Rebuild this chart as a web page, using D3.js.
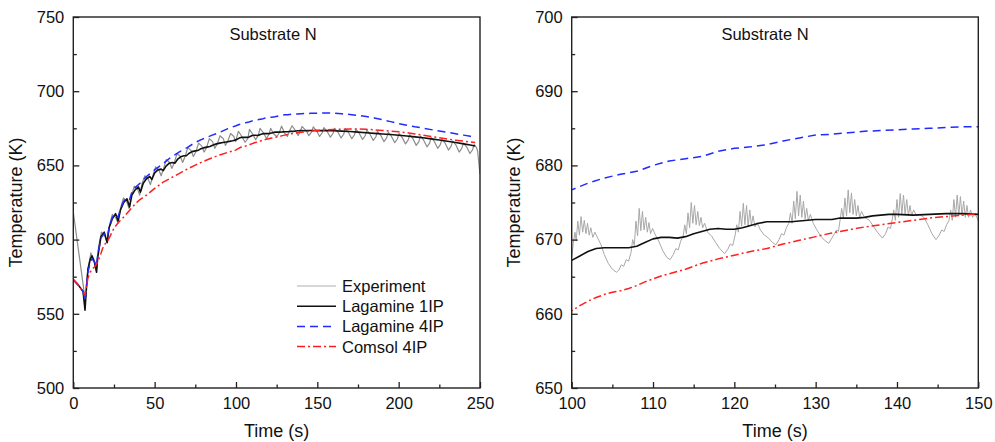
<!DOCTYPE html>
<html><head><meta charset="utf-8">
<script src="https://cdn.jsdelivr.net/npm/d3@7/dist/d3.min.js"></script>
<style>
body{margin:0;background:#fff}
svg text{font-family:"Liberation Sans",Arial,Helvetica,sans-serif;fill:#111}
</style>
</head><body>
<svg id="chart" width="995" height="442"></svg>
<script>
// ---------- labels ----------
const seriesNames = ["Experiment", "Lagamine 1IP", "Lagamine 4IP", "Comsol 4IP"];
const panelLabel = "Substrate N";
const xTitle = "Time (s)";
const yTitle = "Temperature (K)";

// ---------- axes ----------
const leftXDomain = [0, 250];
const leftYDomain = [500, 750];
const leftXTicks = [0, 50, 100, 150, 200, 250];
const leftXMinor = [25, 75, 125, 175, 225];
const leftYTicks = [500, 550, 600, 650, 700, 750];
const leftYMinor = [525, 575, 625, 675, 725];
const rightXDomain = [100, 150];
const rightYDomain = [650, 700];
const rightXTicks = [100, 110, 120, 130, 140, 150];
const rightXMinor = [105, 115, 125, 135, 145];
const rightYTicks = [650, 660, 670, 680, 690, 700];
const rightYMinor = [655, 665, 675, 685, 695];

// ---------- data: [time (s), temperature (K)] ----------
const lagamine1IP = [
 [0,573],[3,569.5],[6,565],[7.2,552.5],[8,566],[9,580],[10.5,587],[11.5,589],[13,585],[14.3,578],[15,588],[17,602],[19,605],[20.8,598],[22,608],[24,614],[26,617.5],[27.5,612.5],[29,620],[31,625],[33,627.5],[34.6,622],[36,630],[38,633.5],[40,635.5],[41.3,632],[43,638],[45,641],[47,642.5],[48.3,640.5],[50,645],[52,647],[54,647.5],[55.3,646.5],[57,649.5],[59,651.5],[61,652],[62.5,651.5],[64,654],[66,655.8],[68,656.5],[69.5,656.5],[71,658],[73,659.3],[75,659.8],[76.5,660],[78,661],[80,661.8],[82,662.3],[84,662.8],[86,663.8],[88,664.5],[90,665],[92,665.4],[94,665.8],[96,666.2],[98,666.6],
 [100,667.2],[101,667.8],[102,668.4],[103,668.8],[104,668.9],[105,668.9],[106,668.9],[107,668.9],[108,669.1],[109,669.6],[110,670.1],[111,670.3],[112,670.3],[113,670.2],[114,670.4],[115,670.8],[116,671.1],[117,671.4],[118,671.5],[119,671.4],[120,671.4],[121,671.6],[122,671.9],[123,672.2],[124,672.4],[125,672.4],[126,672.4],[127,672.4],[128,672.5],[129,672.6],[130,672.7],[131,672.7],[132,672.7],[133,672.9],[134,672.9],[135,672.9],[136,673.0],[137,673.2],[138,673.3],[139,673.4],[140,673.4],[142,673.3],[144,673.4],[146,673.5],[148,673.5],[150,673.4],
 [155,673.4],[160,673.3],[165,673.1],[170,672.8],[175,672.4],[180,672.0],[185,671.6],[190,671.2],[195,670.8],[200,670.3],[205,669.8],[210,669.2],[215,668.6],[220,667.9],[225,667.1],[230,666.3],[235,665.4],[240,664.5],[244,663.8],[247,663.1]
];
const lagamine4IP = [
 [0,573],[3,569.5],[6,565],[7.2,559],[8,568],[9,578],[10.5,585],[11.5,587],[13,585],[14.3,582],[15,590],[17,601],[19,604],[20.8,601],[22,608],[24,615],[26,617],[27.5,615],[29,621],[31,626],[33,628],[34.6,627],[36,632],[38,635],[41,638],[45,642.5],[50,647],[55,651],[60,655.5],[65,659],[70,662],[75,665.5],[80,668],[85,670.2],[90,672.3],[95,674.8],
 [100,676.7],[102,677.6],[104,678.3],[106,678.8],[108,679.2],[110,680.0],[112,680.6],[114,680.9],[116,681.2],[118,681.9],[120,682.3],[122,682.5],[124,682.8],[126,683.3],[128,683.7],[130,684.1],[132,684.2],[134,684.4],[136,684.6],[138,684.7],[140,684.8],[142,684.9],[144,685.0],[146,685.1],[148,685.2],[150,685.2],
 [155,685.3],[160,685.2],[165,684.8],[170,684.3],[175,683.7],[180,683.0],[185,682.0],[190,680.8],[195,679.5],[200,678.2],[205,677.1],[210,676.0],[215,675.1],[220,674.1],[225,673.2],[230,672.3],[235,671.3],[240,670.4],[244,669.6],[247,669.0]
];
const comsol4IP = [
 [0,573],[3,569.5],[6,565],[7.2,562.5],[8,568],[9,574],[10.3,578],[12,580.5],[13.5,582],[15,585],[16.5,589],[18,594],[19.5,597],[21,599],[22.5,602],[24,605.5],[25.5,608.5],[27,610.5],[28.5,612.5],[30,614],[32,616.5],[34,619],[36,621.5],[38,624],[41,627],[45,630],[50,634.5],[55,638.5],[60,641.5],[65,644.5],[70,647.5],[75,650.2],[80,652.7],[85,655],[90,657],[95,658.8],
 [100,660.4],[101,661.1],[102,661.7],[103,662.2],[104,662.6],[105,662.9],[106,663.1],[107,663.4],[108,663.8],[109,664.3],[110,664.7],[111,665.1],[112,665.4],[113,665.7],[114,666.0],[115,666.4],[116,666.8],[118,667.4],[120,667.9],[122,668.4],[124,668.8],[126,669.4],[128,669.9],[130,670.4],[132,670.9],[134,671.3],[136,671.7],[138,672.0],[140,672.3],[142,672.6],[144,672.9],[146,673.1],[148,673.3],[150,673.5],
 [155,673.9],[160,674.2],[165,674.4],[170,674.5],[175,674.5],[180,674.3],[185,674.0],[190,673.6],[195,673.1],[200,672.6],[205,672.0],[210,671.2],[215,670.4],[220,669.5],[225,668.6],[230,667.8],[235,667.0],[240,666.3],[244,665.8],[247,665.4]
];
// experiment, full run (sampled at troughs / rises / peaks of each heating cycle)
const experimentFull = [
 [0,618.5],[6.5,566],[7.3,558],
 [9,580],[10.8,591],[12.5,586],
 [14.2,579],[15.5,595],[17.3,605],[19.2,603],
 [20.8,598],[22.3,610],[24,617],[26,615],
 [27.5,611],[29,621],[30.8,628],[32.7,626],
 [34.3,621],[35.8,630],[37.5,636],[39.5,634],
 [40.8,630],[42.3,638],[44,643],[46,641],
 [47.4,637],[48.9,643],[50.6,649],[52.6,647],
 [54,643],[55.5,648],[57.2,654],[59.2,652],
 [60.6,648],[62.1,652],[63.8,658],[65.8,656],
 [67.2,652],[68.7,656],[70.4,662],[72.4,660],
 [73.8,656],[75.3,659],[77,665],[79,663],
 [80.4,659],[81.9,662],[83.6,668],[85.6,666],
 [87,661.5],[88.5,664.5],[90.2,670],[92.2,668],
 [93.5,663.5],[95,666.5],[96.7,671.5],[98.7,669.5],
 [99.8,666],[100.5,669],[101.5,673],[103,670.5],
 [105.6,665.6],[107.3,668],[108.3,674.3],[110.3,671],
 [112.1,667.3],[113.7,670.4],[114.8,675],[116.5,672.5],
 [118.8,668.1],[120.3,671],[121.3,675],[123,671.5],
 [125.1,669.3],[126.7,672.2],[128,676.5],[129.9,671.7],
 [131.6,669.5],[133,673.5],[134.5,676.7],[136.6,673.3],
 [138.2,670.2],[139.4,672.6],[140.6,676.2],[143.2,673.3],
 [144.8,670],[146.5,672.6],[147.5,676],[149.5,673.3],
 [151.4,669.5],[153,672],[154,675.5],[156,673],
 [158,669],[159.6,671.5],[160.6,675],[162.6,672.5],
 [164.6,668.5],[166.2,671],[167.2,674.8],[169.2,672],
 [171.2,668],[172.8,670.5],[173.8,674.3],[175.8,671.5],
 [177.8,667.5],[179.4,670],[180.4,673.8],[182.4,671],
 [184.4,666.8],[186,669.3],[187,673],[189,670.3],
 [191,666],[192.6,668.5],[193.6,672.3],[195.6,669.5],
 [197.6,665.3],[199.2,667.8],[200.2,671.5],[202.2,668.7],
 [204.2,664.5],[205.8,667],[206.8,670.7],[208.8,668],
 [210.8,663.5],[212.4,666],[213.4,669.8],[215.4,667],
 [217.4,662.5],[219,665],[220,668.8],[222,666],
 [224,661.5],[225.6,664],[226.6,667.6],[228.6,665],
 [230.6,660.3],[232.2,662.8],[233.2,666.4],[235.2,663.8],
 [237.2,659],[238.8,661.5],[239.8,665],[241.8,662.5],
 [243.8,658],[245.4,660.5],[246.4,664],[247.8,662],[248.5,660],[250,644]
];
// experiment, detailed record between 100 s and 150 s
const experimentDetail = [
 [100.0,667.6],[100.2,669.5],[100.4,671.0],[100.55,669.8],[100.75,672.5],[100.95,670.6],[101.15,673.1],[101.35,671.0],[101.55,672.6],[101.75,670.8],[101.95,672.2],[102.15,670.6],[102.35,671.6],[102.6,670.3],[102.85,671.0],[103.2,670.2],[103.6,669.3],[104.0,668.0],[104.5,666.8],[105.0,666.0],[105.5,665.6],[105.8,665.9],[106.1,666.6],[106.4,666.4],[106.7,667.3],[107.0,667.1],[107.3,668.3],
 [107.5,670.0],[107.7,669.2],[107.9,672.5],[108.1,670.5],[108.3,674.2],[108.5,671.2],[108.7,673.8],[108.9,671.3],[109.1,673.0],[109.3,671.0],[109.5,672.3],[109.7,670.8],[109.95,671.5],[110.3,670.6],[110.7,669.8],[111.2,668.5],[111.7,667.6],[112.1,667.3],[112.5,668.0],[112.8,668.8],[113.1,668.6],[113.4,669.8],[113.7,670.4],
 [113.9,672.0],[114.1,670.8],[114.3,673.6],[114.5,671.6],[114.7,675.0],[114.9,672.2],[115.1,674.6],[115.3,672.0],[115.5,673.8],[115.7,671.9],[115.9,673.0],[116.1,671.6],[116.35,672.2],[116.7,671.0],[117.2,670.5],[117.7,669.6],[118.2,668.8],[118.8,668.1],[119.2,668.7],[119.5,669.4],[119.8,669.2],[120.1,670.6],
 [120.3,672.0],[120.5,671.0],[120.7,673.8],[120.9,671.8],[121.1,674.9],[121.3,672.0],[121.5,674.6],[121.7,671.8],[121.9,674.0],[122.1,671.9],[122.3,673.2],[122.55,671.7],[122.8,672.3],[123.2,671.3],[123.7,670.6],[124.2,670.2],[124.7,669.6],[125.1,669.3],[125.5,670.0],[125.8,670.8],[126.1,670.6],[126.4,671.6],[126.7,672.2],
 [126.9,673.6],[127.1,672.2],[127.3,675.2],[127.5,672.8],[127.7,676.5],[127.9,673.2],[128.1,676.0],[128.3,673.0],[128.5,675.2],[128.7,672.8],[128.9,674.2],[129.1,672.6],[129.35,673.4],[129.7,672.2],[130.1,671.4],[130.6,670.5],[131.1,669.9],[131.6,669.5],[132.0,670.2],[132.3,670.8],[132.6,671.3],[132.8,671.1],[133.0,672.6],
 [133.2,674.2],[133.4,672.8],[133.6,675.6],[133.8,673.2],[134.0,676.7],[134.2,673.6],[134.4,676.3],[134.6,673.4],[134.8,675.4],[135.0,673.2],[135.2,674.6],[135.4,673.0],[135.65,673.8],[136.0,673.0],[136.6,672.6],[137.1,671.8],[137.6,671.0],[138.2,670.2],[138.6,670.8],[138.9,671.7],[139.2,671.5],[139.4,672.6],
 [139.6,674.0],[139.8,672.6],[140.0,675.4],[140.2,673.0],[140.4,676.2],[140.6,673.4],[140.8,676.0],[141.0,673.4],[141.2,675.4],[141.4,673.2],[141.6,674.6],[141.8,673.2],[142.05,674.0],[142.4,673.2],[142.8,673.4],[143.3,673.0],[143.8,672.0],[144.3,670.8],[144.8,670.0],[145.2,670.6],[145.5,671.3],[145.8,671.1],[146.1,672.0],[146.4,672.6],
 [146.6,674.0],[146.8,672.6],[147.0,675.4],[147.2,673.0],[147.4,676.0],[147.6,673.2],[147.8,675.8],[148.0,673.2],[148.2,675.2],[148.4,673.0],[148.6,674.6],[148.8,673.0],[149.05,674.0],[149.3,673.0],[149.6,673.5],[149.9,672.8],[150.0,672.5]
];

// ---------- drawing ----------
const svg = d3.select("#chart");
const FONT = 16.5;

const styles = {
  exp:   {stroke:"#9a9a9a", width:1.1, dash:null},
  lag1:  {stroke:"#111111", width:1.6, dash:null},
  lag4:  {stroke:"#1f2bff", width:1.5, dash:"8,5"},
  com:   {stroke:"#ff1f1f", width:1.5, dash:"8,3,2,3"}
};

function drawPanel(o) {
  const x = d3.scaleLinear().domain(o.xDom).range([o.x0, o.x1]);
  const y = d3.scaleLinear().domain(o.yDom).range([o.y1, o.y0]);
  const g = svg.append("g");

  g.append("clipPath").attr("id", o.id).append("rect")
    .attr("x", o.x0).attr("y", o.y0).attr("width", o.x1 - o.x0).attr("height", o.y1 - o.y0);

  const line = d3.line().x(d => x(d[0])).y(d => y(d[1]));
  const plot = g.append("g").attr("clip-path", `url(#${o.id})`);
  const series = [
    [o.exp, o.expStyle],
    [lagamine1IP, styles.lag1],
    [lagamine4IP, styles.lag4],
    [comsol4IP, styles.com]
  ];
  series.forEach(([data, st]) => {
    plot.append("path").datum(data).attr("d", line)
      .attr("fill", "none").attr("stroke", st.stroke).attr("stroke-width", st.width)
      .attr("stroke-linejoin", "round")
      .attr("stroke-dasharray", st.dash);
  });

  // axes
  const xa = g.append("g").attr("transform", `translate(0,${o.y1})`)
    .call(d3.axisBottom(x).tickValues(o.xTicks).tickSize(-6).tickSizeOuter(0).tickPadding(9).tickFormat(d3.format("d")));
  const xm = g.append("g").attr("transform", `translate(0,${o.y1})`)
    .call(d3.axisBottom(x).tickValues(o.xMinor).tickSize(-3.5).tickSizeOuter(0).tickFormat(""));
  const ya = g.append("g").attr("transform", `translate(${o.x0},0)`)
    .call(d3.axisLeft(y).tickValues(o.yTicks).tickSize(-6).tickSizeOuter(0).tickPadding(9).tickFormat(d3.format("d")));
  const ym = g.append("g").attr("transform", `translate(${o.x0},0)`)
    .call(d3.axisLeft(y).tickValues(o.yMinor).tickSize(-3.5).tickSizeOuter(0).tickFormat(""));
  [xa, xm, ya, ym].forEach(a => {
    a.select(".domain").remove();
    a.selectAll("line").attr("stroke", "#222").attr("stroke-width", 1.3);
    a.selectAll("text").attr("font-size", FONT).attr("fill", "#111")
      .style("font-family", '"Liberation Sans", Arial, sans-serif');
  });

  g.append("rect").attr("x", o.x0).attr("y", o.y0)
    .attr("width", o.x1 - o.x0).attr("height", o.y1 - o.y0)
    .attr("fill", "none").attr("stroke", "#222").attr("stroke-width", 1.4);

  g.append("text").attr("x", o.labelX).attr("y", 40).attr("text-anchor", "middle")
    .attr("font-size", 16.5).text(panelLabel);

  g.append("text").attr("x", (o.x0 + o.x1) / 2).attr("y", 437).attr("text-anchor", "middle")
    .attr("font-size", 18).text(xTitle);
  g.append("text").attr("transform", `translate(${o.yTitleX},${(o.y0 + o.y1) / 2}) rotate(-90)`)
    .attr("text-anchor", "middle").attr("font-size", 18).text(yTitle);
  return {x, y, g};
}

drawPanel({id:"clipL", x0:73.3, x1:480, y0:17, y1:388,
  xDom:leftXDomain, yDom:leftYDomain, xTicks:leftXTicks, xMinor:leftXMinor,
  yTicks:leftYTicks, yMinor:leftYMinor, exp:experimentFull,
  expStyle:{stroke:"#8c8c8c", width:1.2, dash:null}, labelX:273, yTitleX:22});

drawPanel({id:"clipR", x0:571.7, x1:978.3, y0:17, y1:388,
  xDom:rightXDomain, yDom:rightYDomain, xTicks:rightXTicks, xMinor:rightXMinor,
  yTicks:rightYTicks, yMinor:rightYMinor, exp:experimentDetail,
  expStyle:{stroke:"#a8a8a8", width:1.0, dash:null}, labelX:765, yTitleX:520});

// legend (left panel)
const legStyles = [
  {stroke:"#b0b0b0", width:1.2, dash:null}, styles.lag1, styles.lag4, styles.com
];
const leg = svg.append("g");
seriesNames.forEach((name, i) => {
  const yy = 286 + i * 20.2;
  leg.append("line").attr("x1", 297).attr("x2", 336).attr("y1", yy).attr("y2", yy)
    .attr("stroke", legStyles[i].stroke).attr("stroke-width", legStyles[i].width)
    .attr("stroke-dasharray", legStyles[i].dash);
  leg.append("text").attr("x", 342).attr("y", yy).attr("dy", "0.36em")
    .attr("font-size", FONT).text(name);
});
</script>
</body></html>
